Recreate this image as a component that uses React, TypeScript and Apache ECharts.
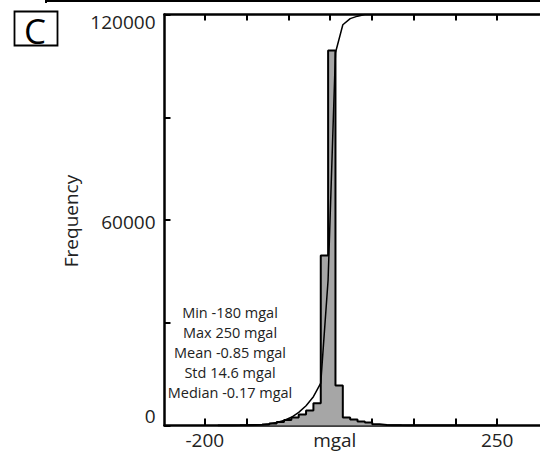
import React, { useEffect, useRef } from "react";
import * as echarts from "echarts";

// Histogram bins (mgal): 38 equal bins from the minimum to the maximum
const binStart = -180;
const binEnd = 250;
const binCounts = [
  0, 30, 60, 100, 150, 200, 300, 600, 1000, 1600, 2300, 3200, 4400, 6500,
  49600, 109500, 11700, 2300, 1750, 1150, 900, 350, 150, 80, 50, 30, 20, 10,
  10, 5, 5, 0, 0, 0, 0, 0, 0, 5,
];

// Cumulative curve (percent) read at bin edges
const cdfX = [-134.7, -123.4, -112.1, -100.8, -89.5, -78.2, -66.8, -55.5, -44.2, -32.9, -21.6, -10.3, 1.05, 12.4, 23.7, 35.0, 46.3, 315];
const cdfPct = [0.1, 0.17, 0.27, 0.42, 0.73, 1.23, 2.0, 3.2, 4.8, 7.0, 10.3, 35.4, 90.7, 97.5, 99.0, 99.6, 100, 100];

// Axis ticks / labels
const xTickValues = [-200, -135.71, -71.43, -7.14, 57.14, 121.43, 185.71, 250];
const xLabelValues = [-200, 0, 250];
const yLabelValues = [0, 60000, 120000];

const statsLines = [
  "Min -180 mgal",
  "Max 250 mgal",
  "Mean -0.85 mgal",
  "Std 14.6 mgal",
  "Median -0.17 mgal",
];

const FONT = "'Open Sans', sans-serif";

export default function App() {
  const ref = useRef<HTMLDivElement>(null);
  useEffect(() => {
    if (!ref.current) return;
    const chart = echarts.init(ref.current, null, { renderer: "svg" });
    const binWidth = (binEnd - binStart) / binCounts.length;
    const hist: number[][] = [[binStart, 0]];
    binCounts.forEach((c, k) => hist.push([binStart + k * binWidth, c]));
    hist.push([binEnd, binCounts[binCounts.length - 1]]);
    hist.push([binEnd, 0]);
    const cdf = cdfX.map((x, i) => [x, cdfPct[i]]);

    const xMin = -262.12;
    const xMax = 315.9;
    const axisLine = { show: true, onZero: false, lineStyle: { color: "#000", width: 2.5 } };

    chart.setOption({
      animation: false,
      backgroundColor: "#fff",
      grid: { left: 164.5, top: 14.5, right: -6, bottom: 30.5, containLabel: false },
      xAxis: [
        {
          type: "value",
          min: xMin,
          max: xMax,
          position: "bottom",
          axisLine,
          splitLine: { show: false },
          axisTick: {
            show: true,
            inside: true,
            length: 7,
            customValues: xTickValues,
            lineStyle: { color: "#000", width: 2 },
          },
          axisLabel: {
            show: true,
            customValues: xLabelValues,
            margin: 5,
            fontFamily: FONT,
            fontSize: 19,
            color: "#222",
            formatter: (v: number) => (v === 0 ? "mgal" : String(v)),
          },
        },
        {
          type: "value",
          min: xMin,
          max: xMax,
          position: "top",
          axisLine,
          splitLine: { show: false },
          axisTick: {
            show: true,
            inside: true,
            length: 6,
            customValues: xTickValues,
            lineStyle: { color: "#000", width: 2 },
          },
          axisLabel: { show: false },
        },
      ],
      yAxis: [
        {
          type: "value",
          min: 0,
          max: 120000,
          interval: 30000,
          position: "left",
          axisLine,
          splitLine: { show: false },
          axisTick: { show: true, inside: true, length: 6, lineStyle: { color: "#000", width: 2 } },
          axisLabel: {
            show: true,
            margin: 9,
            fontFamily: FONT,
            fontSize: 19,
            color: "#222",
            formatter: (v: number) => {
              if (v === yLabelValues[0]) return "{b|0}";
              if (v === yLabelValues[1]) return "{m|60000}";
              if (v === yLabelValues[2]) return "{t|120000}";
              return "";
            },
            rich: {
              b: { fontFamily: FONT, fontSize: 19, color: "#222", padding: [0, 0, 20, 0] },
              m: { fontFamily: FONT, fontSize: 19, color: "#222", padding: [3, 0, 0, 0] },
              t: { fontFamily: FONT, fontSize: 19, color: "#222", padding: [15, 0, 0, 0] },
            },
          },
        },
        { type: "value", min: 0, max: 100, show: false, position: "right" },
      ],
      series: [
        {
          type: "line",
          data: hist,
          step: "end",
          symbol: "none",
          xAxisIndex: 0,
          yAxisIndex: 0,
          lineStyle: { color: "#000", width: 2 },
          areaStyle: { color: "#a6a6a6", opacity: 1 },
          z: 2,
        },
        {
          type: "line",
          data: cdf,
          symbol: "none",
          xAxisIndex: 0,
          yAxisIndex: 1,
          lineStyle: { color: "#000", width: 1.5 },
          z: 3,
        },
      ],
      graphic: [
        {
          type: "polyline",
          shape: { points: [[46, 3], [46, 1], [540, 1]] },
          style: { stroke: "#000", lineWidth: 2, fill: null },
        },
        {
          type: "rect",
          shape: { x: 14.5, y: 11.5, width: 43, height: 34 },
          style: { stroke: "#000", lineWidth: 1.8, fill: null },
        },
        {
          type: "text",
          x: 35,
          y: 30,
          style: {
            text: "C",
            fontFamily: FONT,
            fontSize: 35,
            fill: "#000",
            align: "center",
            verticalAlign: "middle",
          },
        },
        {
          type: "text",
          x: 230,
          y: 352,
          style: {
            text: statsLines.join("\n"),
            fontFamily: FONT,
            fontSize: 14.5,
            lineHeight: 20,
            fill: "#222",
            align: "center",
            verticalAlign: "middle",
          },
        },
        {
          type: "text",
          x: 71,
          y: 221,
          rotation: Math.PI / 2,
          style: {
            text: "Frequency",
            fontFamily: FONT,
            fontSize: 19,
            fill: "#222",
            align: "center",
            verticalAlign: "middle",
          },
        },
      ],
    });
    return () => chart.dispose();
  }, []);
  return (
    <div
      ref={ref}
      style={{ position: "absolute", left: 0, top: 0, width: 540, height: 456 }}
    />
  );
}
